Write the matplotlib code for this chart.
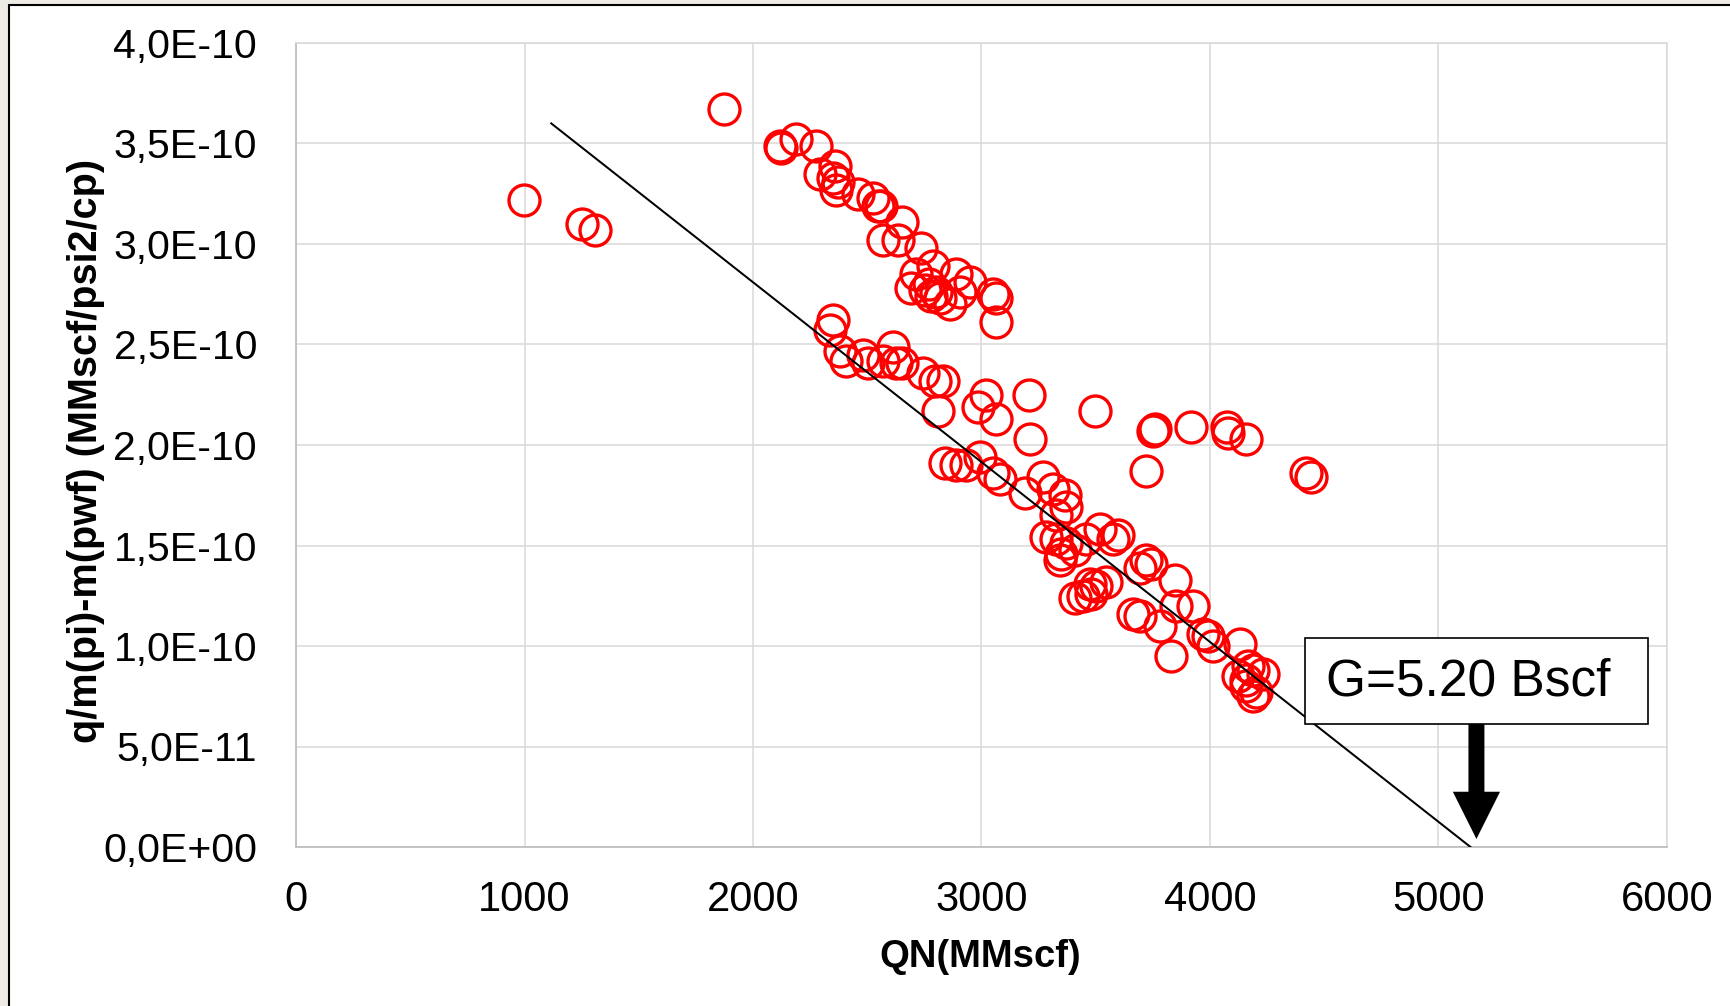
import numpy as np
import matplotlib.pyplot as plt
from matplotlib.patches import Rectangle
from matplotlib.ticker import FuncFormatter

plt.rcParams['font.family'] = ['Liberation Sans', 'DejaVu Sans']

# cumulative production QN (MMscf) and normalized rate q/(m(pi)-m(pwf)) (x1e-10)
qn = [997, 1250, 1308, 1872,
      2117, 2122, 2190, 2275, 2292, 2358, 2351, 2365, 2372, 2460, 2526, 2547,
      2562, 2650, 2569, 2635, 2737, 2715, 2788, 2693, 2752, 2781, 2817, 2890,
      2905, 2948, 2861, 3050, 3065, 3065, 2770, 2800,
      2351, 2336, 2380, 2409, 2482, 2503, 2569, 2613, 2628, 2650, 2744, 2795,
      2832, 2810, 3021, 2985, 3065, 3208, 3211,
      3498, 3758, 3750, 3917, 4073, 4079, 4156, 3721, 4421, 4443,
      2839, 2890, 2934, 2992, 3050, 3080, 3189, 3270,
      3313, 3364, 3371, 3328, 3284, 3328, 3350, 3371, 3408, 3342, 3459, 3517,
      3575, 3597,
      3408, 3444, 3481, 3503, 3546, 3473, 3721, 3743, 3692, 3845, 3663, 3692,
      3780, 3831, 3853, 3925, 3969, 3991, 4013, 4130, 4122, 4188, 4231, 4159,
      4203, 4188, 4159, 4166]
rate = [3.22, 3.10, 3.07, 3.67,
        3.49, 3.48, 3.52, 3.49, 3.35, 3.39, 3.33, 3.27, 3.31, 3.25, 3.23, 3.19,
        3.19, 3.11, 3.02, 3.02, 2.98, 2.85, 2.89, 2.78, 2.77, 2.74, 2.73, 2.85,
        2.76, 2.81, 2.70, 2.75, 2.73, 2.61, 2.80, 2.76,
        2.62, 2.57, 2.47, 2.42, 2.45, 2.41, 2.42, 2.49, 2.41, 2.41, 2.36, 2.32,
        2.32, 2.17, 2.25, 2.19, 2.13, 2.25, 2.03,
        2.17, 2.08, 2.07, 2.09, 2.09, 2.06, 2.03, 1.87, 1.86, 1.84,
        1.91, 1.90, 1.90, 1.94, 1.86, 1.83, 1.76, 1.84,
        1.78, 1.75, 1.69, 1.65, 1.54, 1.53, 1.46, 1.51, 1.48, 1.43, 1.53, 1.58,
        1.53, 1.55,
        1.24, 1.25, 1.26, 1.30, 1.32, 1.31, 1.43, 1.41, 1.39, 1.33, 1.16, 1.15,
        1.10, 0.95, 1.20, 1.20, 1.06, 1.05, 1.00, 1.01, 0.85, 0.88, 0.86, 0.83,
        0.77, 0.75, 0.80, 0.90]
rate = np.array(rate) * 1e-10

# straight-line fit drawn on the chart
fit_x = [1117, 5140]
fit_y = [3.60e-10, 0.0]

# arrow marking the extrapolated G
g_x = 5166
g_label = 'G=5.20 Bscf'

fig = plt.figure(figsize=(17.31, 10.06), dpi=100, facecolor='#EEEBE4')
frame = Rectangle((9 / 1731, -0.1), 1.2, 1.095, transform=fig.transFigure,
                  facecolor='white', edgecolor='black', lw=1.5, zorder=-1)
fig.patches.append(frame)

ax = fig.add_axes([296 / 1731, 159 / 1006, 1371 / 1731, 804 / 1006])
ax.set_facecolor('white')

ax.plot(qn, rate, linestyle='none', marker='o', mfc='none', mec='#FF0000',
        ms=22.3, mew=2.4, zorder=3)
ax.plot(fit_x, fit_y, color='black', lw=1.45, zorder=4)

ax.set_xlim(0, 6000)
ax.set_ylim(0, 4e-10)
ax.set_xticks(np.arange(0, 6001, 1000))
ax.set_yticks(np.arange(0, 4.01e-10, 0.5e-10))
ax.yaxis.set_major_formatter(FuncFormatter(lambda v, p: f'{v:.1E}'.replace('.', ',')))
ax.grid(True, color='#D9D9D9', lw=1.1, zorder=0)
ax.set_axisbelow(True)
for s in ['top', 'right']:
    ax.spines[s].set_color('#D9D9D9')
    ax.spines[s].set_linewidth(1.1)
for s in ['left', 'bottom']:
    ax.spines[s].set_color('#BFBFBF')
    ax.spines[s].set_linewidth(1.3)
ax.tick_params(axis='y', length=0, labelsize=29.5, colors='black', pad=28)
ax.tick_params(axis='x', length=0, labelsize=30, colors='black', pad=24)

ax.set_xlabel('QN(MMscf)', fontsize=27.5, fontweight='bold')
ax.set_ylabel('q/m(pi)-m(pwf) (MMscf/psi2/cp)', fontsize=28.5, fontweight='bold')
ax.xaxis.label.set_va('center')
ax.yaxis.label.set_va('center')
ax.xaxis.set_label_coords(0.499, -0.137)
ax.yaxis.set_label_coords(-0.1535, 0.4925)

# annotation box with arrow
ax.add_patch(Rectangle((0.736, 0.153), 0.25, 0.107, transform=ax.transAxes,
                       facecolor='white', edgecolor='black', lw=1.2,
                       zorder=5, clip_on=False))
ax.text(0.855, 0.205, g_label, transform=ax.transAxes, ha='center', va='center',
        fontsize=37, zorder=6)
ax.annotate('', xy=(g_x, 0.04e-10), xytext=(g_x, 0.612e-10),
            arrowprops=dict(arrowstyle='simple,head_length=3.4,head_width=3.4,tail_width=1.15',
                            mutation_scale=10, fc='black', ec='black', lw=0,
                            shrinkA=0, shrinkB=0), zorder=6)

fig.savefig('out.png', dpi=100, facecolor=fig.get_facecolor())
